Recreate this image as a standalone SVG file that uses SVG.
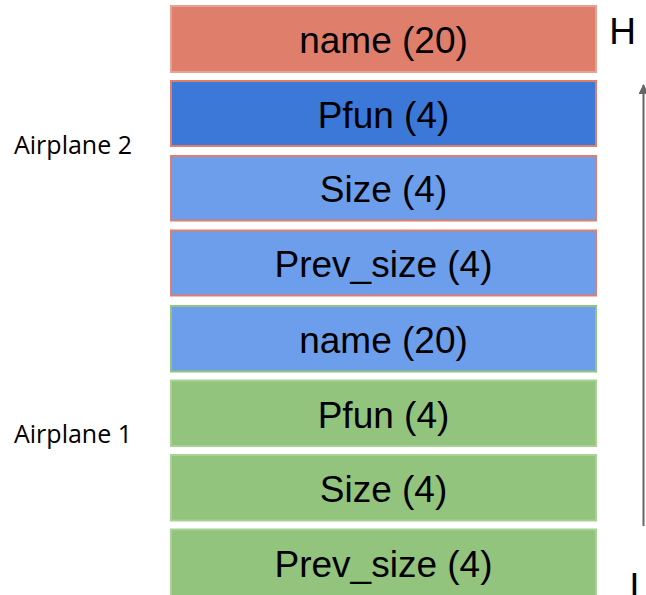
<svg xmlns="http://www.w3.org/2000/svg" width="646" height="595" viewBox="0 0 646 595">
<style>
.box{stroke-width:2}
.t{font-family:"Liberation Sans",Arial,sans-serif;font-size:37px;fill:#000;text-anchor:middle}
.lbl{font-family:"Open Sans","Noto Sans",sans-serif;font-size:25px;fill:#000}
.salmon{fill:#df7e6b;stroke:#e6a394}
.dblue{fill:#3c78d8;stroke:#df7e6b}
.lblue{fill:#6d9eeb;stroke:#df7e6b}
.lblueg{fill:#6d9eeb;stroke:#93c47d}
.green{fill:#93c47d;stroke:#a9d196}
</style>
<defs>
<marker id="ah" viewBox="0 0 10 10" refX="9" refY="5" markerWidth="5" markerHeight="5" orient="auto" markerUnits="strokeWidth">
<path d="M0,0 L10,5 L0,10 z" fill="#666"/>
</marker>
</defs>
<rect width="646" height="595" fill="#fff"/>
<g id="n1"><rect class="box salmon" x="171" y="6" width="425" height="66"/><text class="t" x="383.5" y="53">name (20)</text></g>
<g id="n2"><rect class="box dblue" x="171" y="81" width="425" height="65"/><text class="t" x="383.5" y="127.5">Pfun (4)</text></g>
<g id="n3"><rect class="box lblue" x="171" y="156" width="425" height="64.5"/><text class="t" x="383.5" y="202">Size (4)</text></g>
<g id="n4"><rect class="box lblue" x="171" y="230.5" width="425" height="65"/><text class="t" x="383.5" y="277">Prev_size (4)</text></g>
<g id="n5"><rect class="box lblueg" x="171" y="306" width="425" height="65.5"/><text class="t" x="383.5" y="353">name (20)</text></g>
<g id="n6"><rect class="box green" x="171" y="380.5" width="425" height="65.5"/><text class="t" x="383.5" y="427.5">Pfun (4)</text></g>
<g id="n7"><rect class="box green" x="171" y="455" width="425" height="65.5"/><text class="t" x="383.5" y="502">Size (4)</text></g>
<g id="n8"><rect class="box green" x="171" y="529.5" width="425" height="68"/><text class="t" x="383.5" y="577">Prev_size (4)</text></g>
<g id="labels">
<text class="lbl" x="14" y="154.3">Airplane 2</text>
<text class="lbl" x="14" y="443.3">Airplane 1</text>
<text class="t" x="622.5" y="44.3">H</text>
<text class="t" x="634.5" y="599">I</text>
</g>
<g id="connectors">
<line x1="643.5" y1="526" x2="643.5" y2="85" stroke="#666" stroke-width="2" marker-end="url(#ah)"/>
</g>
</svg>
